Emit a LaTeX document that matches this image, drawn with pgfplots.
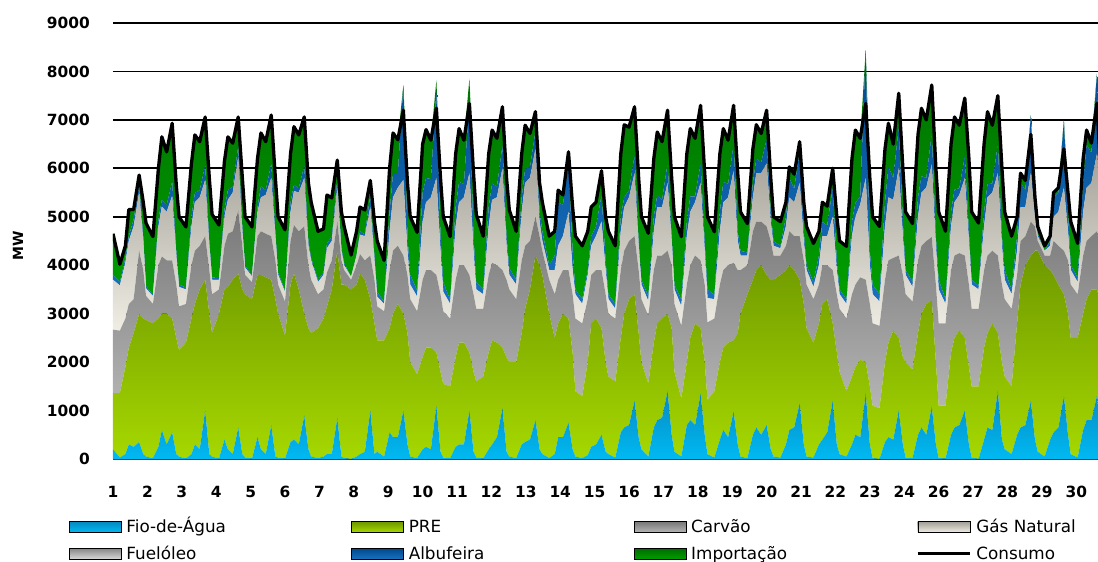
\documentclass[border=0pt]{standalone}
\usepackage{fontspec}
\setmainfont{DejaVu Sans}
\usepackage{pgfplots}
\usepackage{pgfplotstable}
\pgfplotsset{compat=1.18}

\definecolor{fioT}{HTML}{0789C0}\definecolor{fioB}{HTML}{00B9F2}
\definecolor{preT}{HTML}{6E9800}\definecolor{preB}{HTML}{A6D800}
\definecolor{carT}{HTML}{787878}\definecolor{carB}{HTML}{B5B5B5}
\definecolor{gasT}{HTML}{A29F96}\definecolor{gasB}{HTML}{F0EEE4}
\definecolor{fueT}{HTML}{8A8A8A}\definecolor{fueB}{HTML}{DADADA}
\definecolor{albT}{HTML}{004A8E}\definecolor{albB}{HTML}{1A72C0}
\definecolor{impT}{HTML}{006E00}\definecolor{impB}{HTML}{00A000}

% x = hour of the month; F fio, P PRE, C carvao, G gas, U fuel, A albufeira, I importacao, K consumo
\pgfplotstableread{
x F P C G U A I K
0 200 1160 1310 1030 0 100 850 4650
5 30 1330 1290 930 0 70 370 4020
9 100 1800 1000 1150 0 100 250 4400
11.5 300 2000 900 1300 0 100 550 5150
15 250 2350 700 1500 0 150 200 5150
19 350 2650 1300 1200 0 150 210 5860
22 100 2800 1000 600 0 100 700 5300
24 50 2820 500 150 0 50 1300 4870
29 20 2780 400 160 0 30 1200 4590
33 250 2650 1100 800 0 150 1050 6000
35.5 600 2400 1180 1030 0 140 1300 6650
39 300 2700 1100 1000 0 140 1100 6340
43 550 2350 1200 1330 0 300 1200 6930
46 100 2400 1100 600 0 100 1350 5650
48 50 2200 900 400 0 50 1400 5000
53 10 2390 800 300 0 40 1250 4790
57 100 2800 1100 800 0 200 1100 6100
59.5 300 2900 1100 1000 0 190 1200 6690
63 200 3300 900 1000 0 150 1000 6550
67 1000 2700 900 1160 0 300 1000 7060
70 100 2900 900 500 0 100 1300 5800
72 50 2550 800 300 0 50 1300 5050
77 10 2990 500 200 0 30 1100 4830
81 400 3100 900 600 0 150 1000 6150
83.5 200 3350 1100 700 0 200 1100 6650
87 100 3600 1000 800 0 120 900 6520
91 650 3180 1300 1100 0 230 600 7060
94 100 3400 900 300 0 100 1000 5800
96 30 3370 400 150 0 50 1000 5000
101 10 3290 350 120 0 20 1000 4790
105 450 3350 800 500 0 100 1000 6200
107.5 200 3600 900 700 0 230 1100 6730
111 100 3650 900 800 0 100 1000 6550
115 700 3000 900 1200 0 300 1000 7100
118 50 3250 800 500 0 100 1100 5800
120 30 2970 600 200 0 50 1150 5000
125 10 2540 700 200 0 30 1250 4730
129 350 3250 900 600 0 200 1000 6300
131.5 400 3430 1000 700 0 130 1200 6860
135 300 3200 1200 800 0 90 1100 6690
139 900 2100 1800 1000 0 260 1000 7060
142 200 2500 1300 400 0 100 1200 5700
144 50 2550 1100 400 0 50 1150 5300
149 20 2680 700 250 0 50 1000 4700
153 50 2850 600 300 0 50 900 4750
155.5 100 3050 700 500 0 100 1000 5450
159 100 3400 600 400 0 90 800 5390
163 850 3450 600 700 0 170 400 6170
166 50 3550 500 200 0 50 750 5100
168 20 3580 300 100 0 50 750 4800
173 0 3500 200 60 0 0 450 4210
177 50 3550 400 200 0 0 500 4700
179.5 100 3730 400 400 0 70 500 5200
183 150 3550 400 500 0 40 500 5140
187 1000 2300 900 1000 0 250 300 5750
190 100 2700 900 400 0 100 700 4900
192 150 2300 700 200 0 100 1050 4500
197 50 2400 600 150 0 50 850 4100
201 550 2150 1200 800 0 400 900 6000
203.5 450 2550 1300 1100 0 500 830 6730
207 450 2750 1200 1200 0 300 690 6590
211 1000 2000 1200 1560 0 1960 0 7200
214 300 2300 1200 500 0 300 1100 5700
216 50 1950 1300 300 0 200 1200 5000
221 20 1730 1300 300 0 130 1200 4680
225 200 1900 1600 1200 0 600 1000 6500
227.5 250 2050 1600 1400 0 500 1000 6800
231 200 2100 1600 1500 0 380 800 6580
235 1100 1100 1600 2000 0 1800 220 7240
238 150 1650 1600 900 0 300 1200 5800
240 30 1520 1500 400 0 200 1350 5000
245 20 1480 1400 300 0 90 1300 4590
249 250 1850 1600 1100 0 400 1100 6300
251.5 300 2100 1600 1300 0 420 1100 6820
255 300 2100 1600 1400 0 280 900 6580
259 1000 1200 1600 2100 0 1500 450 7340
262 150 1650 1600 900 0 300 1300 5900
264 30 1570 1500 400 0 150 1400 5050
269 10 1690 1400 300 0 100 1100 4600
273 200 2000 1600 1000 0 400 1100 6300
275.5 300 2150 1600 1300 0 340 1100 6790
279 450 1950 1600 1400 0 220 1000 6620
283 1050 1250 1600 2100 0 470 800 7270
286 150 1950 1600 700 0 200 1200 5800
288 50 1950 1500 300 0 140 1200 5140
293 20 1980 1300 300 0 100 1000 4700
297 300 2300 1500 1000 0 300 900 6300
299.5 350 2750 1300 1300 0 290 900 6890
303 400 3100 1000 1300 0 220 700 6720
307 800 3400 800 1400 0 370 400 7170
310 200 3800 600 300 0 200 600 5700
312 100 3700 500 200 0 200 600 5300
317 20 2980 700 200 0 100 600 4600
321 100 2400 900 500 0 300 500 4700
323.5 450 2350 900 700 0 900 250 5550
327 450 2550 900 700 0 650 200 5450
331 750 2150 1000 1200 0 1000 240 6340
334 200 2000 1200 500 0 400 900 5200
336 50 1350 1500 500 0 100 1100 4600
341 20 1280 1500 400 0 100 1100 4400
345 80 1920 1300 500 0 100 800 4700
347.5 250 2550 1000 600 0 200 600 5200
351 300 2600 1000 700 0 200 500 5300
355 500 2200 1200 1000 0 550 500 5950
358 150 1850 1400 500 0 200 900 5000
360 100 1600 1300 300 0 100 1300 4700
365 30 1570 1300 200 0 100 1200 4400
369 550 1950 1400 800 0 300 1300 6300
371.5 650 2350 1300 900 0 200 1500 6900
375 700 2600 1200 900 0 150 1300 6850
379 1200 2200 1200 1300 0 370 1000 7270
382 450 2150 1300 500 0 100 1300 5800
384 200 1800 1300 300 0 100 1300 5000
389 50 1510 1400 300 0 100 1300 4660
393 650 1750 1500 800 0 300 1200 6200
395.5 800 2000 1400 1000 0 250 1300 6750
399 850 2050 1300 1000 0 150 1200 6550
403 1400 1600 1300 1400 0 400 1100 7200
406 500 2200 1300 500 0 100 1200 5800
408 150 1650 1400 300 0 100 1400 5000
413 50 1200 1500 400 0 140 1300 4590
417 700 1300 1600 1000 0 300 1400 6300
419.5 800 1700 1500 1100 0 320 1400 6820
423 700 2100 1400 1100 0 120 1200 6620
427 1350 1350 1400 1600 0 400 1200 7300
430 500 1500 1600 700 0 200 1400 5900
432 100 1120 1600 500 0 180 1500 5000
437 30 1370 1500 400 0 90 1300 4690
441 400 1600 1600 1100 0 400 1200 6300
443.5 600 1700 1600 1400 0 420 1100 6820
447 450 1950 1600 1400 0 280 900 6580
451 980 1470 1600 1900 0 550 800 7300
454 300 2300 1300 600 0 200 1200 5900
456 50 2950 900 300 0 100 800 5100
461 20 3380 600 200 0 60 600 4860
465 500 3200 1000 700 0 300 700 6400
467.5 650 3250 1000 1000 0 300 700 6900
471 500 3500 900 1000 0 220 600 6720
475 700 3100 1000 1300 0 500 600 7200
478 200 3500 800 400 0 200 700 5800
480 50 3650 500 200 0 100 500 5000
485 30 3770 400 150 0 50 500 4900
489 300 3600 500 400 0 200 300 5300
491.5 600 3400 700 700 0 400 230 6030
495 650 3250 700 700 0 280 300 5880
499 1150 2550 900 1100 0 650 200 6550
502 300 2900 900 400 0 200 600 5300
504 50 2650 900 300 0 100 800 4800
509 30 2370 900 250 0 100 800 4450
513 300 2500 800 400 0 200 500 4700
515.5 400 2800 800 600 0 300 400 5300
519 550 2750 700 600 0 220 400 5220
523 1200 1600 1100 1100 0 600 400 6000
526 300 1900 1200 500 0 200 900 5000
528 100 1700 1300 300 0 100 1000 4500
533 50 1350 1500 300 0 90 1100 4390
537 300 1400 1700 1200 0 300 1300 6200
539.5 500 1400 1700 1400 0 290 1500 6790
543 450 1600 1700 1500 0 170 1200 6620
547 1350 650 1700 2100 0 2640 0 7340
550 300 1200 1700 800 0 300 1500 5800
552 20 1080 1700 600 0 200 1400 5000
557 0 1050 1700 500 0 150 1400 4800
561 350 1650 1700 1100 0 500 1100 6400
563.5 450 1950 1700 1300 0 630 900 6930
567 400 2250 1500 1200 0 450 700 6500
571 1000 1500 1700 1800 0 850 700 7550
574 300 1800 1700 800 0 300 1100 6000
576 30 1970 1400 400 0 100 1200 5100
581 20 1830 1400 300 0 110 1200 4860
585 500 2100 1500 900 0 400 1300 6700
587.5 650 2350 1400 1100 0 340 1400 7240
591 500 2700 1300 1100 0 200 1200 7000
595 1080 2200 1300 1500 0 640 1000 7720
598 300 1700 1600 800 0 200 1400 6000
600 20 1080 1700 700 0 200 1400 5100
605 10 1090 1700 400 0 100 1400 4700
609 500 1700 1700 900 0 300 1400 6500
611.5 650 1850 1700 1100 0 260 1500 7060
615 700 1950 1600 1200 0 140 1300 6890
619 1000 1500 1700 1600 0 450 1200 7450
622 300 1600 1700 900 0 200 1500 6200
624 30 1470 1600 500 0 100 1400 5100
629 0 1500 1600 400 0 70 1300 4870
633 400 1900 1600 900 0 300 1400 6500
635.5 650 1950 1600 1200 0 270 1500 7170
639 600 2200 1500 1200 0 190 1200 6890
643 1400 1200 1600 1700 0 600 1000 7500
646 400 1600 1600 800 0 200 1400 6000
648 200 1500 1600 400 0 200 1200 5100
653 100 1400 1600 300 0 100 1100 4600
657 500 2300 1000 500 0 300 400 5000
659.5 650 2950 900 700 0 500 200 5900
663 700 3300 600 600 0 350 200 5750
667 1200 3000 700 1000 0 1200 0 6700
670 400 3900 500 200 0 150 250 5400
672 150 4150 200 100 0 50 150 4800
677 50 3950 200 100 0 0 100 4400
681 400 3500 300 200 0 100 100 4600
683.5 550 3250 700 500 0 400 100 5500
687 650 2950 800 700 0 400 100 5600
691 1300 2100 900 1300 0 1400 0 6400
694 500 2500 1100 600 0 400 400 5500
696 100 2400 1100 300 0 100 900 4900
701 30 2470 900 250 0 100 700 4450
705 600 2400 1200 900 0 600 500 6200
707.5 800 2500 1200 1100 0 890 300 6790
711 800 2700 1100 1100 0 620 200 6520
715 1300 2200 1200 1600 0 1650 0 7340
718 500 2700 1100 600 0 300 600 5800
720 100 2900 900 300 0 100 800 5100
}\mix

\begin{document}
\begin{tikzpicture}
\path[use as bounding box] (-113pt,-103pt) rectangle (985pt,459pt);

\begin{axis}[
  at={(0pt,0pt)}, anchor=south west,
  scale only axis, width=985pt, height=436pt,
  xmin=0, xmax=715.8, ymin=0, ymax=9000,
  stack plots=y,
  axis x line*=bottom, axis y line*=left,
  y axis line style={draw=none},
  x axis line style={line width=1.2pt, color=black!75},
  xtick={0,25,...,700},
  xticklabels={1,2,3,4,5,6,7,8,9,10,11,12,13,14,15,16,17,18,19,20,21,22,23,24,26,27,28,29,30},
  ytick={1000,2000,...,9000},
  extra y ticks={0}, extra y tick style={grid=none},
  ymajorgrids, major grid style={line width=1.8pt, black},
  tick style={draw=none},
  tick label style={font=\fontsize{15.4}{18}\selectfont\bfseries},
  /pgf/number format/assume math mode=true,
  /pgf/number format/1000 sep={},
  yticklabel style={anchor=east, inner sep=0pt, xshift=-23pt},
  xticklabel style={anchor=north, inner sep=0pt, yshift=-27pt},
  ylabel={MW},
  ylabel style={at={(axis description cs:-0.0964,0.488)}, anchor=center,
    font=\fontsize{14}{16}\selectfont\bfseries},
]
\addplot[draw=none, top color=fioT, bottom color=fioB] table[x=x,y=F]{\mix} \closedcycle;
\addplot[draw=none, top color=preT, bottom color=preB] table[x=x,y=P]{\mix} \closedcycle;
\addplot[draw=none, top color=carT, bottom color=carB] table[x=x,y=C]{\mix} \closedcycle;
\addplot[draw=none, top color=gasT, bottom color=gasB] table[x=x,y=G]{\mix} \closedcycle;
\addplot[draw=none, top color=fueT, bottom color=fueB] table[x=x,y=U]{\mix} \closedcycle;
\addplot[draw=none, top color=albT, bottom color=albB] table[x=x,y=A]{\mix} \closedcycle;
\addplot[draw=none, top color=impT, bottom color=impB] table[x=x,y=I]{\mix} \closedcycle;
\end{axis}

\begin{axis}[
  at={(0pt,0pt)}, anchor=south west,
  scale only axis, width=985pt, height=436pt,
  xmin=0, xmax=715.8, ymin=0, ymax=9000,
  hide axis,
  legend columns=4,
  legend cell align=left,
  legend style={at={(axis description cs:-0.04467,-0.1376)}, anchor=north west,
    draw=none, fill=none, inner sep=0pt, outer sep=0pt,
    row sep=11pt, column sep=0pt,
    font=\fontsize{16.8}{19}\selectfont,
    nodes={inner sep=0pt, text height=14pt, text depth=2pt}},
]
\addlegendimage{legend image code/.code={\shade[top color=fioT, bottom color=fioB] (0pt,-5.3pt) rectangle (52pt,5.3pt); \path (57pt,0pt);}}
\addlegendimage{legend image code/.code={\shade[top color=preT, bottom color=preB] (0pt,-5.3pt) rectangle (52pt,5.3pt); \path (57pt,0pt);}}
\addlegendimage{legend image code/.code={\shade[top color=carT, bottom color=carB] (0pt,-5.3pt) rectangle (52pt,5.3pt); \path (57pt,0pt);}}
\addlegendimage{legend image code/.code={\shade[top color=gasT, bottom color=gasB] (0pt,-5.3pt) rectangle (52pt,5.3pt); \path (57pt,0pt);}}
\addlegendimage{legend image code/.code={\shade[top color=fueT, bottom color=fueB] (0pt,-5.3pt) rectangle (52pt,5.3pt); \path (57pt,0pt);}}
\addlegendimage{legend image code/.code={\shade[top color=albT, bottom color=albB] (0pt,-5.3pt) rectangle (52pt,5.3pt); \path (57pt,0pt);}}
\addlegendimage{legend image code/.code={\shade[top color=impT, bottom color=impB] (0pt,-5.3pt) rectangle (52pt,5.3pt); \path (57pt,0pt);}}
\addplot[black, line width=3.3pt, line join=round,
  legend image code/.code={\draw[black, line width=3pt] (0pt,0pt) -- (52pt,0pt); \path (57pt,0pt);}]
  table[x=x,y=K]{\mix};
\legend{\makebox[225pt][l]{Fio-de-Água}, \makebox[225pt][l]{PRE}, \makebox[225pt][l]{Carvão}, \makebox[225pt][l]{Gás Natural},
  \makebox[225pt][l]{Fuelóleo}, \makebox[225pt][l]{Albufeira}, \makebox[225pt][l]{Importação}, \makebox[225pt][l]{Consumo}}
\end{axis}
\end{tikzpicture}
\end{document}
